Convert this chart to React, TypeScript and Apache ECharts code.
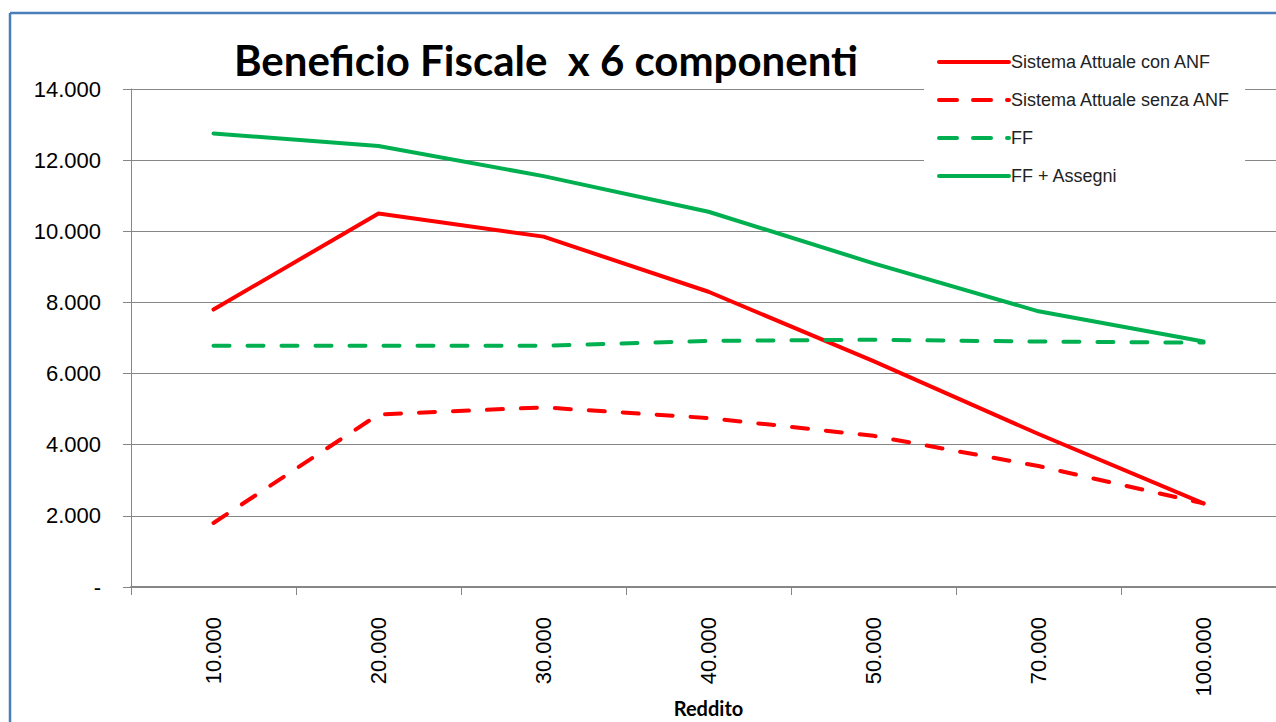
import React, { useEffect, useRef } from "react";
import * as echarts from "echarts";

const categories = ["10.000", "20.000", "30.000", "40.000", "50.000", "70.000", "100.000"];
const conANF = [7800, 10500, 9850, 8300, 6350, 4300, 2350];
const senzaANF = [1800, 4850, 5050, 4750, 4250, 3400, 2350];
const ff = [6780, 6780, 6780, 6920, 6950, 6900, 6870];
const ffAssegni = [12750, 12400, 11550, 10550, 9100, 7750, 6900];
const seriesNames = ["Sistema Attuale con ANF", "Sistema Attuale senza ANF", "FF", "FF + Assegni"];
const yTicks = [0, 2000, 4000, 6000, 8000, 10000, 12000, 14000];

const fmt = (v: number) => (v === 0 ? "-" : String(v).replace(/\B(?=(\d{3})+(?!\d))/g, "."));

export default function App() {
  const ref = useRef<HTMLDivElement>(null);
  useEffect(() => {
    const chart = echarts.init(ref.current!, undefined, { renderer: "svg" });
    const red = "#ff0000";
    const green = "#00b050";
    const dash = [16, 18];
    const styles = [
      { color: red, dashed: false },
      { color: red, dashed: true },
      { color: green, dashed: true },
      { color: green, dashed: false },
    ];
    const lineStyleOf = (i: number) => ({
      color: styles[i].color,
      width: 4,
      type: styles[i].dashed ? dash : "solid",
      cap: "round",
      join: "round",
    });
    const datasets = [conANF, senzaANF, ff, ffAssegni];
    chart.setOption({
      animation: false,
      backgroundColor: "#ffffff",
      title: {
        text: "Beneficio Fiscale  x 6 componenti",
        left: 229,
        top: 34,
        textStyle: { fontFamily: "Lato", fontWeight: "bold", fontSize: 42, color: "#000" },
      },
      legend: {
        orient: "vertical",
        left: 924,
        top: 40,
        padding: [13, 14, 13, 13],
        backgroundColor: "#ffffff",
        itemWidth: 70,
        itemHeight: 14,
        itemGap: 20,
        itemStyle: { opacity: 0, borderWidth: 0 },
        data: seriesNames.map((name, i) => ({
          name,
          lineStyle: { color: styles[i].color, width: 4, type: styles[i].dashed ? [18, 16] : "solid", cap: "round" },
          itemStyle: { opacity: 0, borderWidth: 0, color: "transparent" },
        })),
        textStyle: { fontFamily: "Liberation Sans", fontSize: 18, color: "#222", padding: [0, 0, 0, -3] },
      },
      grid: { left: 131, top: 89, height: 498, width: 1155, outerBoundsMode: "none", containLabel: false },
      xAxis: {
        type: "category",
        data: categories,
        boundaryGap: true,
        name: "Reddito",
        nameLocation: "middle",
        nameGap: 110,
        nameMoveOverlap: false,
        nameTextStyle: { fontFamily: "Lato", fontWeight: "bold", fontSize: 20, color: "#000", lineHeight: 22 },
        axisLine: { lineStyle: { color: "#868686", width: 2 } },
        axisTick: { show: true, length: 8, lineStyle: { color: "#868686" } },
        axisLabel: { rotate: 90, margin: 30, fontFamily: "Liberation Sans", fontSize: 22, color: "#000" },
        splitLine: { show: false },
      },
      yAxis: {
        type: "value",
        min: yTicks[0],
        max: yTicks[yTicks.length - 1],
        interval: 2000,
        axisLine: { show: true, lineStyle: { color: "#868686", width: 1 } },
        axisTick: { show: true, length: 8, lineStyle: { color: "#868686" } },
        axisLabel: { margin: 30, fontFamily: "Liberation Sans", fontSize: 22, color: "#000", formatter: fmt },
        splitLine: { lineStyle: { color: "#868686", width: 1 } },
      },
      series: seriesNames.map((name, i) => ({
        name,
        type: "line",
        data: datasets[i],
        symbol: "none",
        lineStyle: lineStyleOf(i),
        itemStyle: { color: styles[i].color },
      })),
      graphic: [
        { type: "line", shape: { x1: 10, y1: 13, x2: 10, y2: 722 }, style: { stroke: "#4a7ebb", lineWidth: 2.5 }, z: 100 },
        { type: "line", shape: { x1: 10, y1: 13, x2: 1276, y2: 13 }, style: { stroke: "#4a7ebb", lineWidth: 2.5 }, z: 100 },
      ],
    });
    return () => chart.dispose();
  }, []);
  return <div ref={ref} style={{ position: "fixed", left: 0, top: 0, width: 1276, height: 722 }} />;
}
